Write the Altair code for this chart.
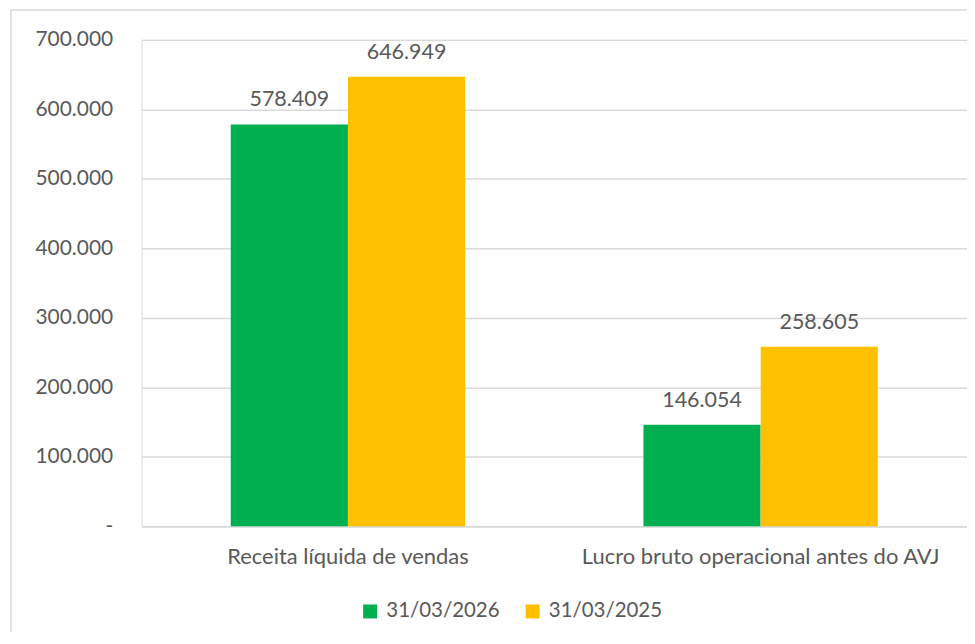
import altair as alt
import pandas as pd

categories = ["Receita líquida de vendas", "Lucro bruto operacional antes do AVJ"]
series = ["31/03/2026", "31/03/2025"]
values_2026 = [578409, 146054]
values_2025 = [646949, 258605]
colors = ["#00B050", "#FFC000"]
y_ticks = [0, 100000, 200000, 300000, 400000, 500000, 600000, 700000]

rows = []
for i, c in enumerate(categories):
    rows.append({"cat": c, "serie": series[0], "val": values_2026[i]})
    rows.append({"cat": c, "serie": series[1], "val": values_2025[i]})
df = pd.DataFrame(rows)
df["label"] = df["val"].map(lambda v: f"{v:,}".replace(",", "."))

FONT = "Lato"
TXT = "#595959"
GRID = "#D9D9D9"

x = alt.X("cat:N", sort=categories, title=None,
          scale=alt.Scale(paddingInner=0, paddingOuter=0),
          axis=alt.Axis(labelAngle=0, ticks=False, tickSize=0, labelPadding=20,
                        labelFontSize=22, labelColor=TXT, labelFont=FONT,
                        domainColor=GRID, domainWidth=1.5, labelLimit=500))
xo = alt.XOffset("serie:N", sort=series,
                 scale=alt.Scale(paddingInner=0, paddingOuter=0.76))
y = alt.Y("val:Q", title=None,
          scale=alt.Scale(domain=[0, 700000], nice=False),
          axis=alt.Axis(values=y_ticks, ticks=False, tickSize=0, domain=False,
                        labelPadding=29, labelFontSize=21, labelColor=TXT,
                        labelFont=FONT, gridColor=GRID, gridWidth=1.5,
                        labelExpr="datum.value == 0 ? '-' : replace(format(datum.value, ',.0f'), regexp(',', 'g'), '.')"))
color = alt.Color("serie:N", sort=series,
                  scale=alt.Scale(domain=series, range=colors),
                  legend=alt.Legend(title=None, orient="none", direction="horizontal",
                                    legendX=219, legendY=563,
                                    symbolType="square", symbolSize=196,
                                    symbolStrokeWidth=0, labelFontSize=20.5,
                                    labelColor=TXT, labelFont=FONT,
                                    labelOffset=6, columnPadding=22))

base = alt.Chart(df)
bars = base.mark_bar(size=117.5).encode(x=x, xOffset=xo, y=y, color=color)
labels = base.mark_text(baseline="alphabetic", dy=-18, fontSize=21.5, font=FONT,
                        color=TXT).encode(x=x, xOffset=xo, y=y, text="label:N")

border = alt.Chart(alt.Data(values=[{"a": 1}])).mark_rect(
    fill=None, stroke=GRID, strokeWidth=1.5).encode(
    x=alt.value(-131), x2=alt.value(840), y=alt.value(-30), y2=alt.value(620))

chart = alt.layer(border, bars, labels).properties(
    width=828, height=488,
    autosize=alt.AutoSizeParams(type="none"),
    padding={"left": 134, "top": 31, "right": 0, "bottom": 105},
).configure_view(stroke=None).configure(background="white")

chart.save("out.html", embed_options={"renderer": "svg", "actions": False})
